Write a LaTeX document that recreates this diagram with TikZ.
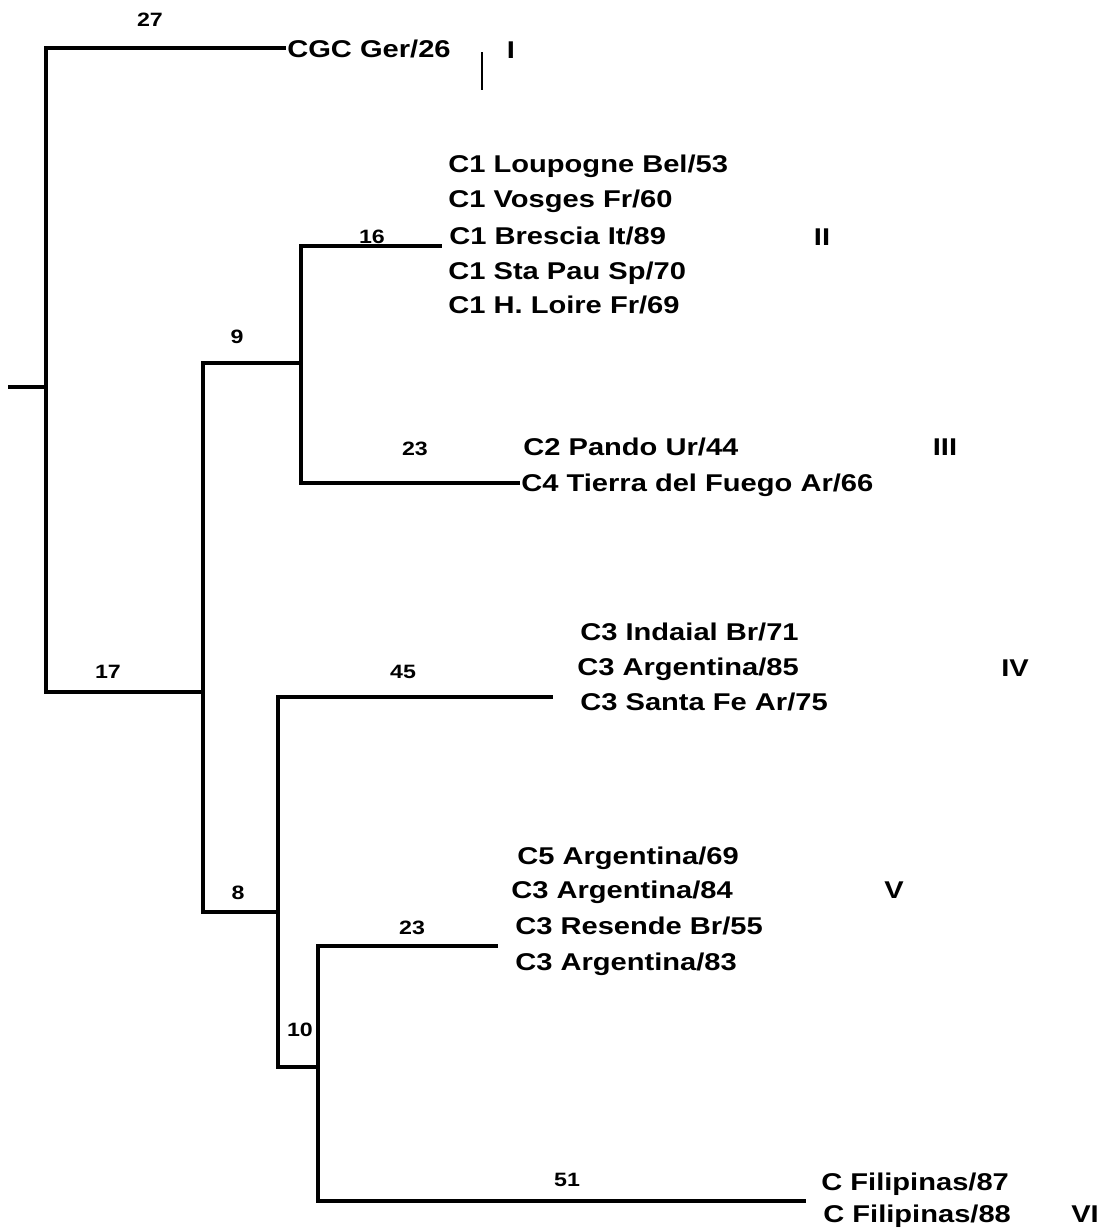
\documentclass[tikz,border=0pt]{standalone}
\usepackage{fontspec}
\setmainfont{Liberation Sans}
\newfontfamily\leaffamily[FakeStretch=1.2]{Liberation Sans}
\usepackage{tikz}
\usetikzlibrary{positioning}

\begin{document}
\begin{tikzpicture}[x=0.02cm, y=-0.02cm,
    leaf/.style={anchor=base west, inner sep=0pt, font=\leaffamily\bfseries\fontsize{13.8}{16}\selectfont},
    clade/.style={anchor=base, inner sep=0pt, font=\leaffamily\bfseries\fontsize{13.8}{16}\selectfont},
    blen/.style={inner sep=0pt, font=\leaffamily\bfseries\fontsize{11}{13}\selectfont},
    branch/.style={line width=2pt}]
  \useasboundingbox (0,0) rectangle (1104,1231);

  % Internal nodes and branch tips
  \coordinate (stub) at (8,387);
  \coordinate (n0) at (46,387);
  \coordinate (n1) at (203,692);
  \coordinate (n2) at (301,363);
  \coordinate (n3) at (278,912);
  \coordinate (n4) at (318,1067);
  \coordinate (tI) at (286,48);
  \coordinate (tII) at (442,246);
  \coordinate (tIII) at (520,483);
  \coordinate (tIV) at (553,697);
  \coordinate (tV) at (498,946);
  \coordinate (tVI) at (806,1201);

  % Leaves
  \node[leaf] (cgc) at (287,57) {CGC Ger/26};
  \node[leaf] (loup) at (448,172) {C1 Loupogne Bel/53};
  \node[leaf] (vosg) at (448,207) {C1 Vosges Fr/60};
  \node[leaf] (bres) at (449,244) {C1 Brescia It/89};
  \node[leaf] (stap) at (448,279) {C1 Sta Pau Sp/70};
  \node[leaf] (loire) at (448,313) {C1 H. Loire Fr/69};
  \node[leaf] (pando) at (523,455) {C2 Pando Ur/44};
  \node[leaf] (tierra) at (521,491) {C4 Tierra del Fuego Ar/66};
  \node[leaf] (inda) at (580,640) {C3 Indaial Br/71};
  \node[leaf] (arg85) at (577,675) {C3 Argentina/85};
  \node[leaf] (stafe) at (580,710) {C3 Santa Fe Ar/75};
  \node[leaf] (arg69) at (517,864) {C5 Argentina/69};
  \node[leaf] (arg84) at (511,898) {C3 Argentina/84};
  \node[leaf] (resen) at (515,934) {C3 Resende Br/55};
  \node[leaf] (arg83) at (515,970) {C3 Argentina/83};
  \node[leaf] (fil87) at (821,1190) {C Filipinas/87};
  \node[leaf] (fil88) at (823,1222) {C Filipinas/88};

  % Clade numerals
  \node[clade] (cI) at (511,58) {I};
  \node[clade] (cII) at (822,245) {II};
  \node[clade] (cIII) at (945,455) {III};
  \node[clade] (cIV) at (1015,676) {IV};
  \node[clade] (cV) at (894,898) {V};
  \node[clade] (cVI) at (1085,1222) {VI};
  \draw[line width=1.4pt] (482,52) -- (482,90);

  % Branch lengths
  \node[blen] (b27) at (150,20) {27};
  \node[blen] (b16) at (372,237) {16};
  \node[blen] (b9) at (237,337) {9};
  \node[blen] (b23a) at (415,449) {23};
  \node[blen] (b17) at (108,672) {17};
  \node[blen] (b45) at (403,672) {45};
  \node[blen] (b8) at (238,893) {8};
  \node[blen] (b23b) at (412,928) {23};
  \node[blen] (b10) at (300,1030) {10};
  \node[blen] (b51) at (567,1180) {51};

  % Branches
  \draw[branch] (stub) -- (n0);
  \draw[branch] (n0) |- (tI);
  \draw[branch] (n0) |- (n1);
  \draw[branch] (n1) |- (n2);
  \draw[branch] (n1) |- (n3);
  \draw[branch] (n2) |- (tII);
  \draw[branch] (n2) |- (tIII);
  \draw[branch] (n3) |- (tIV);
  \draw[branch] (n3) |- (n4);
  \draw[branch] (n4) |- (tV);
  \draw[branch] (n4) |- (tVI);
\end{tikzpicture}
\end{document}
